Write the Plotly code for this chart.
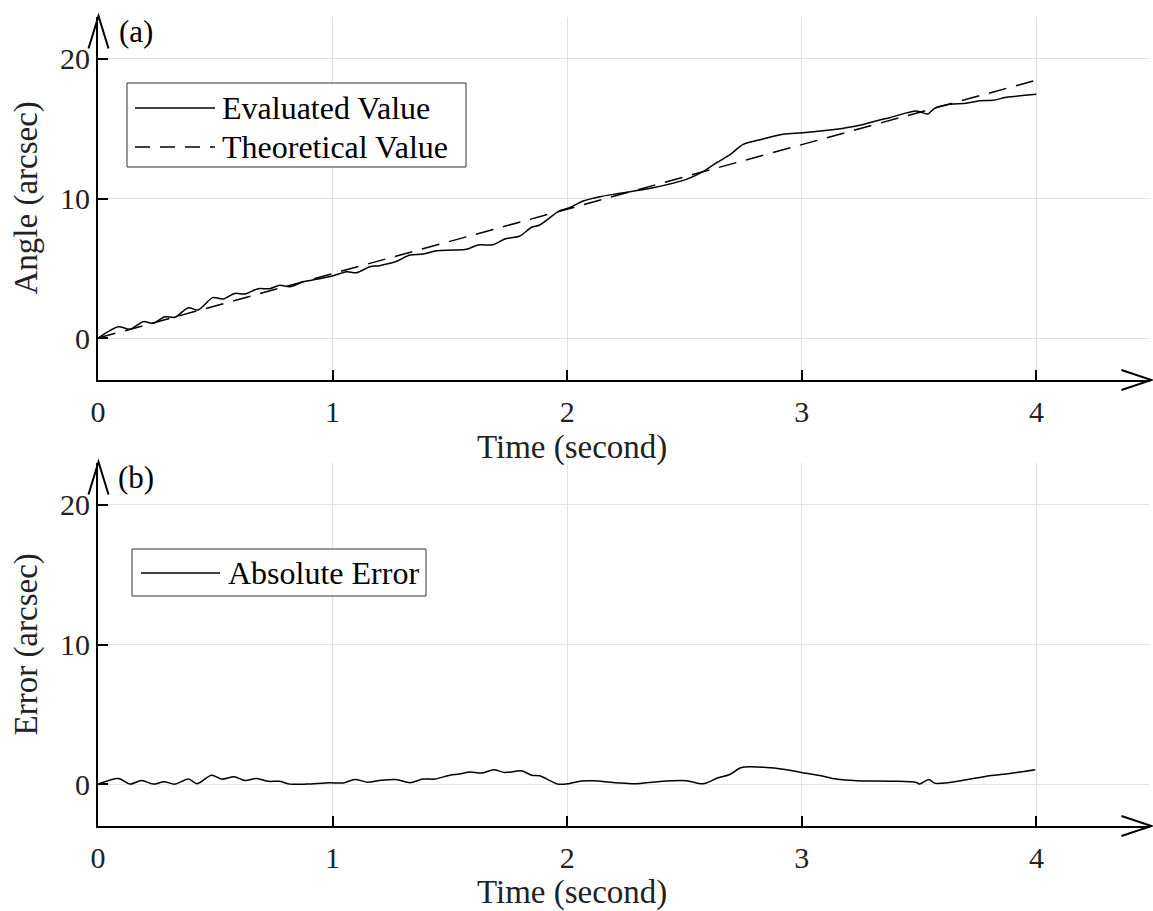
import plotly.graph_objects as go

# ---------------- data ----------------
t_eval = [0, 0.087, 0.136, 0.193, 0.236, 0.285, 0.328, 0.385, 0.427, 0.489, 0.534,
          0.583, 0.626, 0.683, 0.732, 0.775, 0.818, 0.875, 0.932, 1.003, 1.06, 1.102,
          1.159, 1.2, 1.273, 1.329, 1.386, 1.443, 1.514, 1.57, 1.62, 1.684, 1.734,
          1.798, 1.848, 1.883, 1.968, 2.01, 2.068, 2.139, 2.224, 2.366, 2.508, 2.579,
          2.636, 2.693, 2.75, 2.835, 2.92, 3.005, 3.147, 3.232, 3.332, 3.375, 3.488,
          3.537, 3.566, 3.63, 3.701, 3.758, 3.815, 3.872, 4.0]
evaluated = [0.0, 0.82, 0.63, 1.18, 1.06, 1.53, 1.49, 2.18, 2.01, 2.9, 2.8,
             3.2, 3.16, 3.54, 3.54, 3.78, 3.68, 4.04, 4.21, 4.47, 4.76, 4.69,
             5.11, 5.19, 5.5, 5.95, 6.02, 6.26, 6.31, 6.36, 6.67, 6.69, 7.1,
             7.31, 7.94, 8.1, 9.13, 9.34, 9.82, 10.13, 10.37, 10.77, 11.37, 11.92,
             12.56, 13.12, 13.88, 14.26, 14.6, 14.71, 14.96, 15.19, 15.62, 15.79, 16.27,
             16.05, 16.46, 16.75, 16.82, 17.0, 17.03, 17.25, 17.46]

t_theory = [0, 4.0]
theoretical = [0.0, 18.48]

t_err = [0, 0.087, 0.136, 0.186, 0.236, 0.281, 0.328, 0.385, 0.423, 0.484, 0.527,
         0.58, 0.626, 0.676, 0.726, 0.775, 0.818, 0.889, 0.988, 1.045, 1.095, 1.15,
         1.2, 1.27, 1.33, 1.385, 1.436, 1.5, 1.54, 1.585, 1.635, 1.687, 1.734, 1.805,
         1.848, 1.883, 1.961, 2.01, 2.06, 2.11, 2.21, 2.288, 2.395, 2.508, 2.579,
         2.643, 2.693, 2.743, 2.849, 2.92, 2.998, 3.076, 3.147, 3.233, 3.389, 3.488,
         3.502, 3.542, 3.566, 3.63, 3.701, 3.801, 3.886, 3.995]
abs_error = [0.0, 0.4, 0.0, 0.26, 0.0, 0.17, 0.0, 0.36, 0.03, 0.64, 0.36,
             0.53, 0.26, 0.4, 0.2, 0.2, 0.0, 0.0, 0.1, 0.08, 0.33, 0.14,
             0.26, 0.33, 0.1, 0.36, 0.36, 0.64, 0.72, 0.86, 0.79, 1.03, 0.83, 0.95,
             0.64, 0.6, 0.0, 0.05, 0.22, 0.24, 0.1, 0.02, 0.19, 0.24, 0.02,
             0.45, 0.69, 1.19, 1.19, 1.07, 0.84, 0.62, 0.36, 0.24, 0.21, 0.12,
             0.0, 0.33, 0.07, 0.12, 0.31, 0.6, 0.76, 1.03]

x_ticks = [0, 1, 2, 3, 4]
y_ticks = [0, 10, 20]
x_title = "Time (second)"
y_titles = ["Angle (arcsec)", "Error (arcsec)"]
panel_labels = ["(a)", "(b)"]
legend_top = ["Evaluated Value", "Theoretical Value"]
legend_bottom = ["Absolute Error"]

# ---------------- layout geometry ----------------
W, H = 1153, 911
ML, MR, MT, MB = 98, 3, 17, 85
PW, PH = W - ML - MR, H - MT - MB


def px(xp):
    return (xp - ML) / PW


def py(yp):
    return (H - MB - yp) / PH


SERIF = "Liberation Serif"
fig = go.Figure()

fig.add_trace(go.Scatter(x=t_eval, y=evaluated, mode="lines", name=legend_top[0],
                         line=dict(color="black", width=1.5, shape="spline", smoothing=0.8),
                         xaxis="x", yaxis="y", showlegend=False))
fig.add_trace(go.Scatter(x=t_theory, y=theoretical, mode="lines", name=legend_top[1],
                         line=dict(color="black", width=1.5, dash="18px,10px"),
                         xaxis="x", yaxis="y", showlegend=False))
fig.add_trace(go.Scatter(x=t_err, y=abs_error, mode="lines", name=legend_bottom[0],
                         line=dict(color="black", width=1.5, shape="spline", smoothing=0.8),
                         xaxis="x2", yaxis="y2", showlegend=False))

axis_common = dict(showline=True, linecolor="black", linewidth=2, mirror=False,
                   ticks="inside", ticklen=10, tickwidth=1.5, tickcolor="black",
                   showgrid=True, gridcolor="#e2e2e2", gridwidth=1, zeroline=False,
                   tickfont=dict(family=SERIF, size=30, color="#222"))

top_dom = [py(380), 1.0]
bot_dom = [0.0, py(463)]

fig.update_layout(
    width=W, height=H, paper_bgcolor="white", plot_bgcolor="white",
    margin=dict(l=ML, r=MR, t=MT, b=MB),
    xaxis=dict(axis_common, range=[0, PW / 234.6], tickvals=x_ticks, anchor="y",
               domain=[0, 1], ticklabelstandoff=4),
    yaxis=dict(axis_common, range=[-3, 23], tickvals=y_ticks, domain=top_dom, anchor="x"),
    xaxis2=dict(axis_common, range=[0, PW / 234.6], tickvals=x_ticks, anchor="y2",
                domain=[0, 1], ticklabelstandoff=4),
    yaxis2=dict(axis_common, range=[-3, 23], tickvals=y_ticks, domain=bot_dom, anchor="x2"),
    showlegend=False,
)

annotations = []
shapes = []
for i, (ytitle, lab) in enumerate(zip(y_titles, panel_labels)):
    shift = 446 * i
    annotations.append(dict(text=x_title, xref="x" if i == 0 else "x2", x=2.02,
                            yref="paper", y=py(447 + shift), showarrow=False,
                            xanchor="center", yanchor="middle",
                            font=dict(family=SERIF, size=33, color="#222")))
    annotations.append(dict(text=ytitle, xref="paper", x=px(26),
                            yref="y" if i == 0 else "y2", y=10, showarrow=False,
                            textangle=-90, xanchor="center", yanchor="middle",
                            font=dict(family=SERIF, size=33, color="#222")))
    annotations.append(dict(text=lab, xref="paper", x=px(136), yref="paper",
                            y=py(31 + shift), showarrow=False, xanchor="center",
                            yanchor="middle", font=dict(family=SERIF, size=31, color="black")))
    # y-axis arrowhead
    shapes.append(dict(type="path", xref="paper", yref="paper",
                       path=f"M{px(88.5)},{py(48.5 + shift)} L{px(98.5)},{py(16 + shift)} L{px(108.5)},{py(48.5 + shift)}",
                       line=dict(color="black", width=2)))
    # x-axis arrowhead
    shapes.append(dict(type="path", xref="paper", yref="paper",
                       path=f"M{px(1121.5)},{py(370 + shift)} L{px(1151.5)},{py(380 + shift)} L{px(1121.5)},{py(390 + shift)}",
                       line=dict(color="black", width=2)))

# ---------------- legends (boxes, samples, labels) ----------------
LEG_FONT = dict(family=SERIF, size=32, color="black")
# top legend
shapes.append(dict(type="rect", xref="paper", yref="paper",
                   x0=px(127), x1=px(466), y0=py(167), y1=py(83),
                   line=dict(color="#333", width=1), fillcolor="white", layer="above"))
rows_top = [108, 147]
dashes = ["solid", "15px,10px"]
for label, ry, dsh in zip(legend_top, rows_top, dashes):
    shapes.append(dict(type="line", xref="paper", yref="paper",
                       x0=px(135), x1=px(215), y0=py(ry), y1=py(ry),
                       line=dict(color="black", width=1.5, dash=dsh), layer="above"))
    annotations.append(dict(text=label, xref="paper", yref="paper", x=px(220), y=py(ry),
                            xanchor="left", yanchor="middle", showarrow=False, font=LEG_FONT))
# bottom legend
shapes.append(dict(type="rect", xref="paper", yref="paper",
                   x0=px(132), x1=px(426), y0=py(596), y1=py(549),
                   line=dict(color="#333", width=1), fillcolor="white", layer="above"))
for label, ry in zip(legend_bottom, [573]):
    shapes.append(dict(type="line", xref="paper", yref="paper",
                       x0=px(141), x1=px(220), y0=py(ry), y1=py(ry),
                       line=dict(color="black", width=1.5), layer="above"))
    annotations.append(dict(text=label, xref="paper", yref="paper", x=px(226), y=py(ry),
                            xanchor="left", yanchor="middle", showarrow=False, font=LEG_FONT))

fig.update_layout(annotations=annotations, shapes=shapes)

fig.write_html("out.html")
